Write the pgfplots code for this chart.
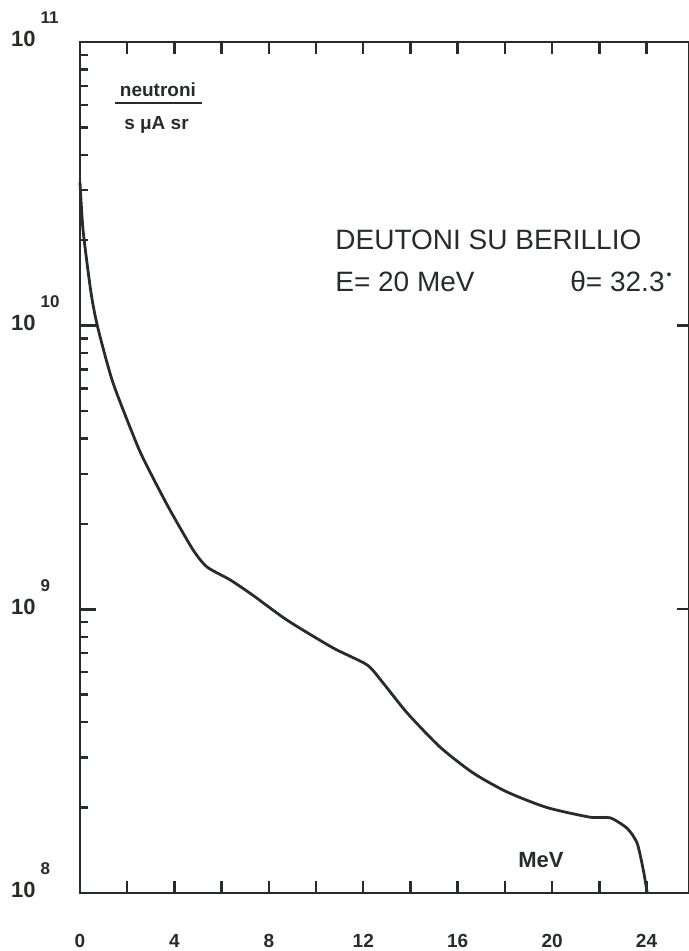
\documentclass[border=0pt]{standalone}
\usepackage{fontspec}
\setmainfont{Liberation Sans}
\usepackage{pgfplots}
\pgfplotsset{compat=1.18}
\definecolor{ink}{RGB}{40,44,40}
\pgfplotstableread{
x y
0.00 3.20e10
0.13 2.17e10
0.47 1.30e10
0.76 9.80e9
1.40 6.28e9
2.46 3.73e9
3.10 2.90e9
3.81 2.24e9
4.79 1.62e9
5.38 1.41e9
6.36 1.27e9
7.33 1.12e9
8.77 9.16e8
10.72 7.31e8
12.16 6.37e8
12.84 5.50e8
13.86 4.31e8
15.25 3.27e8
16.65 2.65e8
18.09 2.27e8
19.79 2.00e8
21.61 1.85e8
22.46 1.84e8
23.18 1.69e8
23.60 1.50e8
23.86 1.21e8
24.03 1.00e8
}\spectrum
\newcommand{\tl}[1]{\textbf{10}\rlap{\hspace{2.5pt}\raisebox{11.5pt}{\fontsize{8.5}{9}\selectfont\bfseries #1}}}
\begin{document}
\begin{tikzpicture}
\begin{axis}[
  scale only axis, width=304.5pt, height=425.5pt,
  xmin=0, xmax=25.8, ymode=log, ymin=1e8, ymax=1e11,
  axis line style={ink, line width=1.4pt},
  every tick/.style={ink, line width=1.2pt},
  tick align=inside,
  xtick={0,4,...,24}, xtick style={draw=none},
  xticklabels={0,4,8,12,16,20,24},
  xticklabel style={anchor=base, inner sep=0pt, yshift=-27.5pt, font=\fontsize{9.5}{10}\selectfont\bfseries, text=ink},
  ytick={1e8,1e9,1e10,1e11},
  yticklabels={\tl{8},\tl{9},\tl{10},\tl{11}},
  ytick pos=left,
  major tick length=8pt, minor tick length=4pt,
  yticklabel style={anchor=base east, inner sep=0pt, xshift=-22pt, yshift=-2.5pt, font=\fontsize{11}{12}\selectfont\bfseries, text=ink},
  clip=false,
]
\addplot[ink, line width=1.4pt, smooth, tension=0.4] table[x=x, y=y] {\spectrum};
\node[anchor=base, inner sep=0pt, text=ink, font=\fontsize{9.5}{11}\selectfont\bfseries] at (rel axis cs:0.128,0.9354) {neutroni};
\draw[ink, line width=1pt] (rel axis cs:0.058,0.928) -- (rel axis cs:0.200,0.928);
\node[anchor=base, inner sep=0pt, text=ink, font=\fontsize{9.5}{11}\selectfont\bfseries] at (rel axis cs:0.1256,0.8966) {s μA sr};
\node[anchor=base west, inner sep=0pt, text=ink, font=\fontsize{14}{16}\selectfont] at (rel axis cs:0.4187,0.7556) {DEUTONI SU BERILLIO};
\node[anchor=base west, inner sep=0pt, text=ink, font=\fontsize{14}{16}\selectfont] at (rel axis cs:0.4187,0.7062) {E= 20 MeV};
\node[anchor=base west, inner sep=0pt, text=ink, font=\fontsize{14}{16}\selectfont] at (rel axis cs:0.8046,0.7062) {θ= 32.3\hspace{1pt}\raisebox{6pt}{\fontsize{7}{8}\selectfont •}};
\node[anchor=base west, inner sep=0pt, text=ink, font=\fontsize{11}{12}\selectfont\bfseries] at (rel axis cs:0.719,0.0294) {MeV};
\coordinate (bl) at (rel axis cs:0,0);
\coordinate (tr) at (rel axis cs:1,1);
\end{axis}
\begin{axis}[
  scale only axis, width=304.5pt, height=425.5pt,
  xmin=0, xmax=25.8, ymode=log, ymin=1e8, ymax=1e11,
  axis line style={ink, line width=1.4pt},
  every tick/.style={ink, line width=1.2pt},
  tick align=inside,
  xtick={0,2,...,24}, xticklabels={},
  major tick length=6pt,
  ytick={1e8,1e9,1e10,1e11}, yticklabels={},
  ytick pos=right, yminorticks=false, xminorticks=false,
]
\end{axis}
\pgfresetboundingbox
\path ([shift={(-40pt,-29pt)}]bl) rectangle ([shift={(0pt,21pt)}]tr);
\end{tikzpicture}
\end{document}
